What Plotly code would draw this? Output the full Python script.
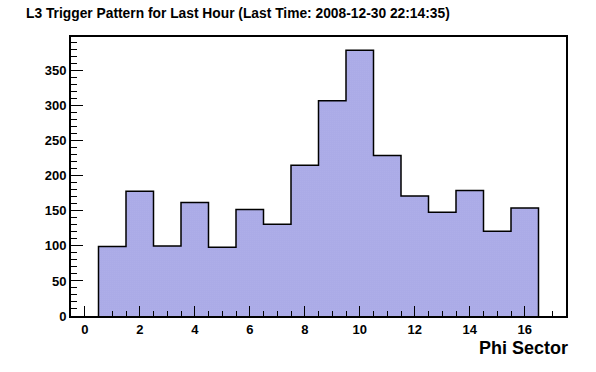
import plotly.graph_objects as go

# Data
phi_sector = list(range(1, 17))
counts = [99, 178, 100, 162, 98, 152, 131, 215, 307, 379, 229, 171, 148, 179, 121, 154]
x_tick_vals = [0, 2, 4, 6, 8, 10, 12, 14, 16]
title_text = "L3 Trigger Pattern for Last Hour (Last Time: 2008-12-30 22:14:35)"
x_title = "Phi Sector"

FONT = "Liberation Sans, Arial, Helvetica, sans-serif"

# step outline built from the histogram values
step_x = [phi_sector[0] - 0.5] + [b - 0.5 for b in phi_sector] + [phi_sector[-1] + 0.5]
step_y = [0] + counts + [0]

fig = go.Figure()
fig.add_trace(go.Bar(
    x=phi_sector, y=counts, width=1,
    marker=dict(
        color="white",
        line=dict(width=0),
        pattern=dict(shape=".", fgcolor="#2020c0", bgcolor="white", size=2, solidity=0.75),
    ),
    showlegend=False, hoverinfo="skip",
))
fig.add_trace(go.Scatter(
    x=step_x, y=step_y, mode="lines", line=dict(color="black", width=1.5, shape="hv"),
    showlegend=False, hoverinfo="skip",
))

ymax = max(counts) * 1.05

fig.update_layout(
    width=596, height=372,
    margin=dict(l=71, r=30, t=37, b=56),
    paper_bgcolor="white", plot_bgcolor="white",
    bargap=0,
    font=dict(family=FONT, size=13, color="black", weight="bold"),
    title=dict(text=title_text, xref="container", yref="container",
               x=26/596, xanchor="left", y=1 - 13/372, yanchor="middle",
               font=dict(family=FONT, size=13.8, color="black", weight="bold")),
    xaxis=dict(range=[-0.5, 17.5], tickvals=x_tick_vals, ticks="inside", ticklen=10,
               tickwidth=1, tickcolor="black", showline=True, linecolor="black", linewidth=2,
               mirror=True, showgrid=False, zeroline=False,
               minor=dict(dtick=0.5, tick0=0, ticks="inside", ticklen=5, tickcolor="black", tickwidth=1),
               tickfont=dict(family=FONT, size=13, weight="bold")),
    yaxis=dict(range=[0, ymax], dtick=50, tick0=0, ticks="inside", ticklen=12,
               tickwidth=1, tickcolor="black", showline=True, linecolor="black", linewidth=2,
               mirror=True, showgrid=False, zeroline=False,
               minor=dict(dtick=10, tick0=0, ticks="inside", ticklen=6, tickcolor="black", tickwidth=1),
               tickfont=dict(family=FONT, size=13, weight="bold")),
    annotations=[dict(text=x_title, xref="paper", yref="paper", x=1 + 4/495, xanchor="right",
                      y=-32/279, yanchor="middle", showarrow=False,
                      font=dict(family=FONT, size=18, color="black", weight="bold"))],
)

fig.write_html("out.html", config={"displayModeBar": False},
               post_script="document.body.style.margin='0';")
